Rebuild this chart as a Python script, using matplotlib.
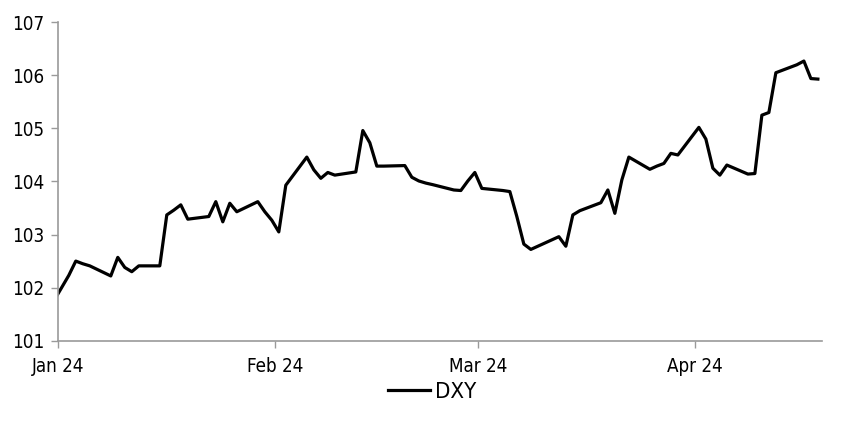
#!/usr/bin/env python3

# DXY daily closes, Jan - Apr 2024

import numpy as np
import pandas as pd
import matplotlib
matplotlib.use("Agg")
import matplotlib.pyplot as plt
from matplotlib import font_manager

dates = pd.to_datetime([
    "2023-12-29",
    "2024-01-02", "2024-01-03", "2024-01-04", "2024-01-05",
    "2024-01-08", "2024-01-09", "2024-01-10", "2024-01-11", "2024-01-12",
    "2024-01-15", "2024-01-16", "2024-01-17", "2024-01-18", "2024-01-19",
    "2024-01-22", "2024-01-23", "2024-01-24", "2024-01-25", "2024-01-26",
    "2024-01-29", "2024-01-30", "2024-01-31", "2024-02-01", "2024-02-02",
    "2024-02-05", "2024-02-06", "2024-02-07", "2024-02-08", "2024-02-09",
    "2024-02-12", "2024-02-13", "2024-02-14", "2024-02-15", "2024-02-16",
    "2024-02-19", "2024-02-20", "2024-02-21", "2024-02-22", "2024-02-23",
    "2024-02-26", "2024-02-27", "2024-02-28", "2024-02-29", "2024-03-01",
    "2024-03-04", "2024-03-05", "2024-03-06", "2024-03-07", "2024-03-08",
    "2024-03-11", "2024-03-12", "2024-03-13", "2024-03-14", "2024-03-15",
    "2024-03-18", "2024-03-19", "2024-03-20", "2024-03-21", "2024-03-22",
    "2024-03-25", "2024-03-26", "2024-03-27", "2024-03-28", "2024-03-29",
    "2024-04-01", "2024-04-02", "2024-04-03", "2024-04-04", "2024-04-05",
    "2024-04-08", "2024-04-09", "2024-04-10", "2024-04-11", "2024-04-12",
    "2024-04-15", "2024-04-16", "2024-04-17", "2024-04-18",
])
dxy = [
    101.33,
    102.23, 102.50, 102.45, 102.41,
    102.22, 102.57, 102.38, 102.30, 102.41,
    102.41, 103.37, 103.46, 103.56, 103.29,
    103.34, 103.62, 103.24, 103.59, 103.43,
    103.62, 103.43, 103.27, 103.05, 103.93,
    104.46, 104.22, 104.06, 104.17, 104.12,
    104.18, 104.96, 104.73, 104.29, 104.29,
    104.30, 104.08, 104.01, 103.97, 103.94,
    103.84, 103.83, 104.01, 104.17, 103.87,
    103.83, 103.81, 103.34, 102.82, 102.72,
    102.90, 102.96, 102.78, 103.37, 103.45,
    103.60, 103.84, 103.40, 104.03, 104.46,
    104.23, 104.29, 104.34, 104.53, 104.50,
    105.02, 104.80, 104.25, 104.12, 104.31,
    104.14, 104.15, 105.25, 105.30, 106.05,
    106.20, 106.27, 105.94, 105.93,
]
month_ticks = pd.to_datetime(["2024-01-01", "2024-02-01", "2024-03-01", "2024-04-01"])
month_labels = ["Jan 24", "Feb 24", "Mar 24", "Apr 24"]

# narrow font if we have one
names = {f.name for f in font_manager.fontManager.ttflist}
if "Liberation Sans Narrow" in names:
    plt.rcParams["font.family"] = ["Liberation Sans Narrow", "DejaVu Sans"]
else:
    plt.rcParams["font.family"] = ["DejaVu Sans"]
    plt.rcParams["font.stretch"] = "condensed"

fig = plt.figure(figsize=(8.52, 4.25), dpi=100)
ax = fig.add_axes([0.0684, 0.1984, 0.896, 0.7491])

# Excel puts the daily points mid-day
ax.plot(dates + pd.Timedelta(hours=12), dxy, color="black", lw=2.3, label="DXY")

ax.set_xlim(pd.Timestamp("2024-01-01"), pd.Timestamp("2024-04-19 01:00"))
ax.set_ylim(101, 107)
ax.set_yticks(np.arange(101, 108, 1))
ax.set_xticks(month_ticks)
ax.set_xticklabels(month_labels)

for side in ["top", "right"]:
    ax.spines[side].set_visible(False)
for side in ["left", "bottom"]:
    ax.spines[side].set_color("#9a9a9a")
    ax.spines[side].set_linewidth(1.2)
ax.tick_params(axis="both", colors="#9a9a9a", length=5, width=1.0,
               labelcolor="black", labelsize=13.5)
ax.tick_params(axis="y", pad=5)
ax.tick_params(axis="x", pad=7)

fig.legend(loc="center", bbox_to_anchor=(432 / 852, 1 - 392 / 425),
           frameon=False, fontsize=16, handlelength=1.9, handletextpad=0.2)

plt.savefig("out.png", dpi=100)
plt.close()
